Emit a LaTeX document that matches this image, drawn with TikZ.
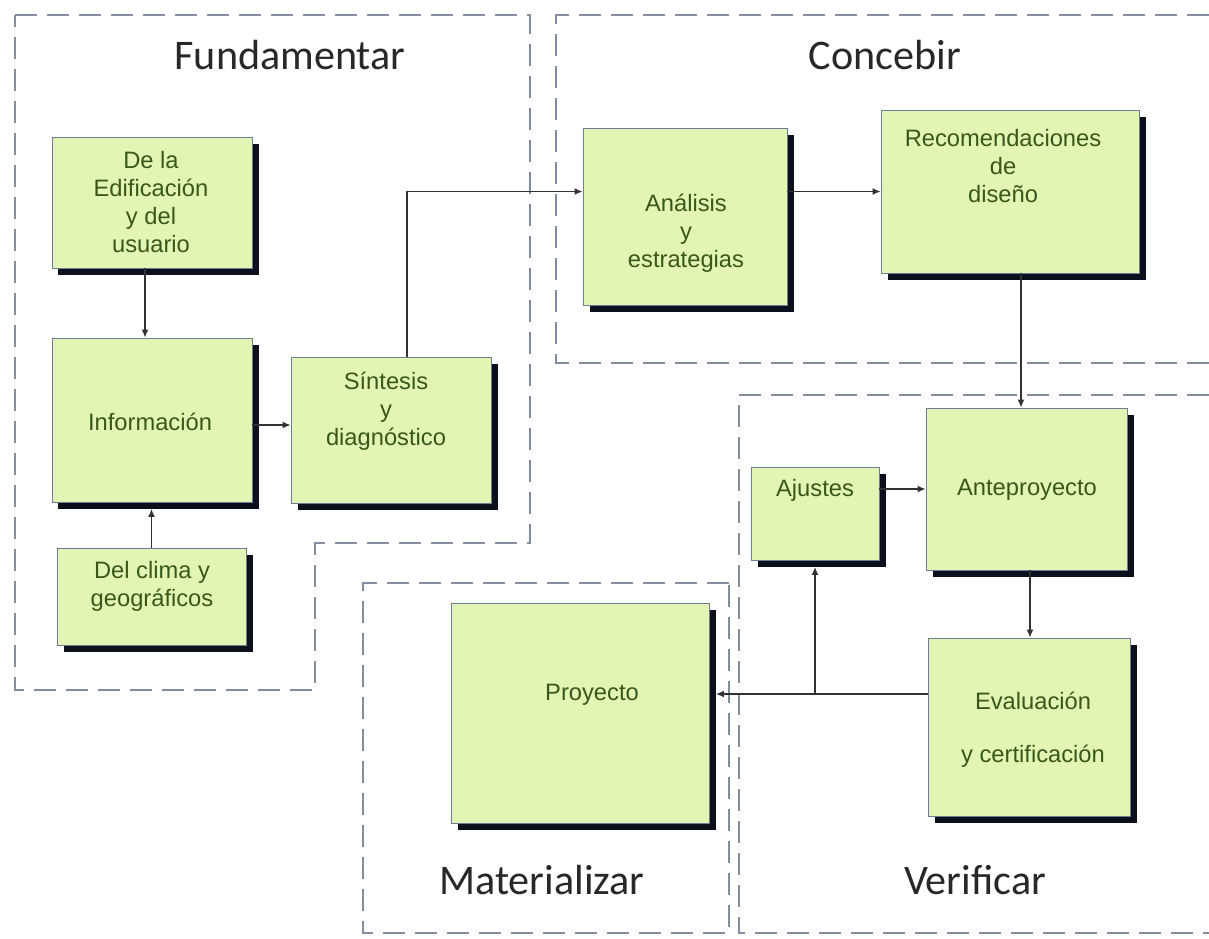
\documentclass[tikz,border=0pt]{standalone}
\usepackage{fontspec}
\setmainfont{Liberation Sans}
\newfontfamily\titlefont{Carlito}
\usetikzlibrary{fit,shadows,arrows.meta}

\definecolor{boxfill}{RGB}{226,245,180}
\definecolor{boxline}{RGB}{110,125,150}
\definecolor{boxtext}{RGB}{55,88,25}
\definecolor{regline}{RGB}{130,142,160}
\definecolor{connc}{RGB}{50,50,50}
\definecolor{shadowc}{RGB}{12,16,28}
\definecolor{titlec}{RGB}{40,40,40}

\begin{document}
\begin{tikzpicture}[x=0.02cm,y=-0.02cm,
  box/.style={draw=boxline, line width=0.5pt, fill=boxfill, inner sep=0pt,
    general shadow={fill=shadowc, shadow xshift=0.13cm, shadow yshift=-0.13cm}},
  txt/.style={text=boxtext, font=\fontsize{13.5}{16}\selectfont, align=center, inner sep=0pt},
  region/.style={draw=regline, line width=1.2pt, dash pattern=on 0.44cm off 0.2cm},
  title/.style={text=titlec, font=\titlefont\fontsize{24}{28}\selectfont, inner sep=0pt},
  arr/.style={draw=connc, line width=0.8pt, -{Latex[length=0.16cm,width=0.14cm]}}]

\useasboundingbox[fill=white] (0,0) rectangle (1209,938);

% regions
\draw[region] (15,15) -- (530,15) -- (530,543) -- (315,543) -- (315,690) -- (15,690) -- cycle;
\draw[region] (1209,15) -- (556,15) -- (556,363) -- (1209,363);
\draw[region] (1209,395) -- (739,395) -- (739,933) -- (1209,933);
\draw[region] (729,583) -- (363,583) -- (363,933) -- (729,933) -- cycle;

% titles
\node[title] (tfund) at (290,55) {Fundamentar};
\node[title] (tconc) at (885,55) {Concebir};
\node[title] (tmat) at (542,880) {Materializar};
\node[title] (tver) at (975,880) {Verificar};

% boxes
\node[box, fit={(52,137) (252,268)}] (edif) {};
\node[box, fit={(52,338) (252,502)}] (info) {};
\node[box, fit={(57,548) (246,645)}] (clima) {};
\node[box, fit={(291,357) (491,503)}] (synt) {};
\node[box, fit={(583,128) (787,305)}] (anal) {};
\node[box, fit={(881,110) (1139,273)}] (recom) {};
\node[box, fit={(926,408) (1127,570)}] (ante) {};
\node[box, fit={(751,467) (879,560)}] (ajus) {};
\node[box, fit={(928,638) (1130,816)}] (eval) {};
\node[box, fit={(451,603) (709,823)}] (proy) {};

% texts
\node[txt] (edift) at (151,202) {De la\\Edificación\\y del\\usuario};
\node[txt] (infot) at (150,422) {Información};
\node[txt] (climat) at (152,586) {Del clima y\\geográficos};
\node[txt] (syntt) at (386,411) {Síntesis\\y\\diagnóstico};
\node[txt] (analt) at (686,233) {Análisis\\y\\estrategias};
\node[txt] (recomt) at (1003,166) {Recomendaciones\\de\\diseño};
\node[txt] (ajust) at (815,490) {Ajustes};
\node[txt] (antet) at (1027,490) {Anteproyecto};
\node[txt] (evalt) at (1033,730) {Evaluación\\[0.5cm]y certificación};
\node[txt] (proyt) at (592,695) {Proyecto};

% connectors
\draw[arr] ([xshift=-0.14cm]edif.south) -- ([xshift=-0.14cm]edif.south |- info.north);
\draw[arr] (clima.north) -- ([yshift=-0.13cm]clima.north |- info.south);
\draw[arr] ([yshift=-0.1cm]info.east) -- ([yshift=-0.1cm]info.east -| synt.west);
\draw[arr] ([xshift=0.32cm]synt.north) |- (anal.west |- recom.west);
\draw[arr] (anal.east |- recom.west) -- (recom.west);
\draw[arr] ([xshift=0.22cm]recom.south) -- ([xshift=0.22cm]recom.south |- ante.north);
\draw[arr] (ajus.east |- ante.west) -- (ante.west);
\draw[arr] ([xshift=0.07cm]ante.south) -- ([xshift=0.07cm]ante.south |- eval.north);
\coordinate (j) at ([yshift=0.66cm]eval.west -| ajus.south);
\draw[arr] ([yshift=0.66cm]eval.west) -- ([yshift=0.66cm,xshift=0.13cm]eval.west -| proy.east);
\draw[arr] (j) -- ([yshift=-0.13cm]ajus.south);
\end{tikzpicture}
\end{document}
